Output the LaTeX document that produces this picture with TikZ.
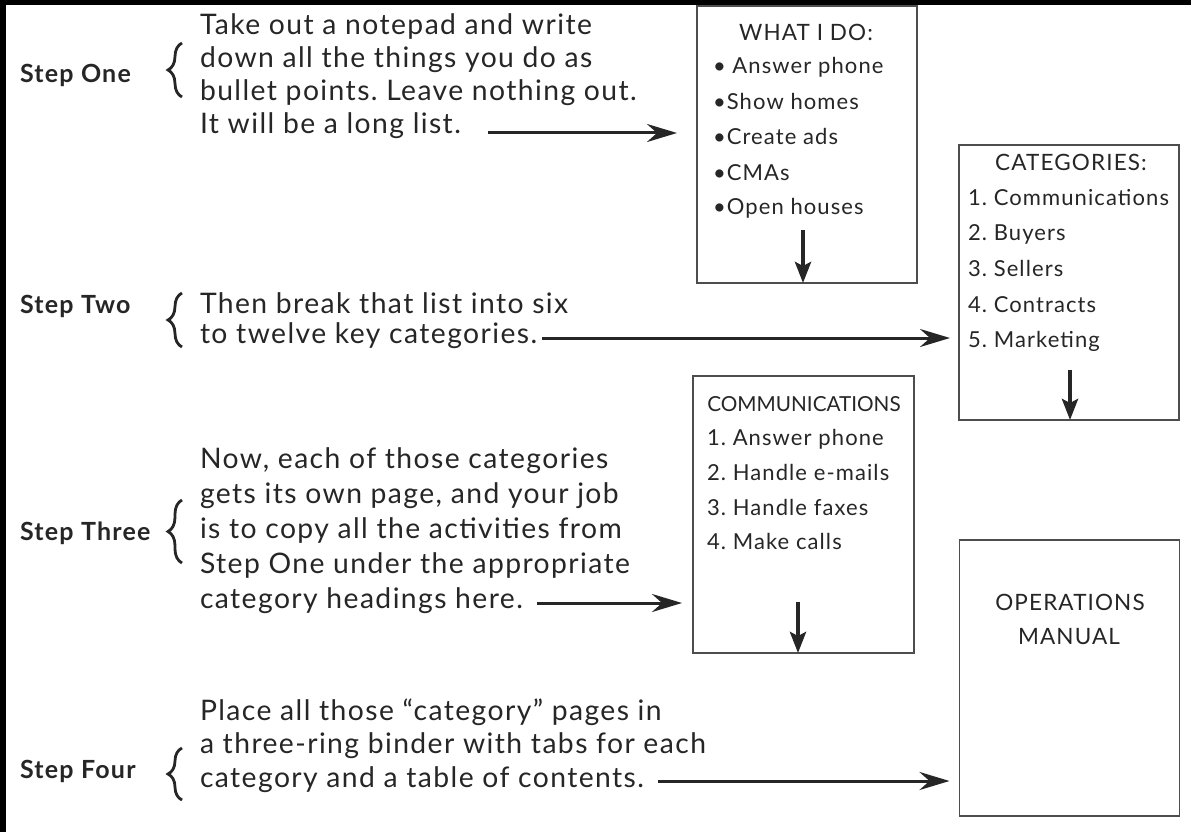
\documentclass[tikz,border=0pt]{standalone}
\usepackage{fontspec}
\setmainfont{Lato}[LetterSpace=5]
\newfontfamily\plainlato{Lato}
\usetikzlibrary{arrows.meta,decorations.pathreplacing}
\definecolor{ink}{HTML}{262626}
\definecolor{frame}{HTML}{4D4D4D}
\frenchspacing
\begin{document}
\begin{tikzpicture}[x=1pt,y=-1pt,
  every node/.style={inner sep=0pt, outer sep=0pt, text=ink},
  steplabel/.style={font=\fontsize{25}{30}\selectfont\bfseries, anchor=base west},
  body/.style={font=\fontsize{28.3}{33}\selectfont, anchor=base west},
  item/.style={font=\fontsize{22}{26}\selectfont, anchor=base west},
  heading/.style={font=\fontsize{22.5}{26}\selectfont, anchor=base},
  panel/.style={draw=frame, line width=1.4pt, minimum width=220pt, minimum height=277pt},
  sidebrace/.style={decorate, decoration={brace, amplitude=14pt}, line width=2.8pt, draw=ink},
  flow/.style={draw=ink, line width=3pt, -{Stealth[length=30pt, width=18pt, inset=10pt]}},
  down/.style={draw=ink, line width=4pt, -{Stealth[length=21pt, width=16pt, inset=4pt]}}
]
\useasboundingbox (0,0) rectangle (1191,832);
\fill[white] (0,0) rectangle (1191,832);
% dark edge strips along the top and the left side
\fill[black] (0,0) rectangle (1191,5);
\fill[black] (0,0) rectangle (6,832);

% ---- panels ----
\node[panel] (what) at (807,144.5) {};
\node[panel, minimum height=275pt] (cats) at (1069,282.5) {};
\node[panel, minimum width=221pt] (comm) at (803.5,514.5) {};
\node[panel, minimum height=276pt] (manual) at (1069.5,678) {};

% ---- panel contents ----
\node[heading] (whatT) at (806,41) {WHAT I DO:};
\node[item] (w1) at (713,74) {\textbullet\ Answer phone};
\node[item] (w2) at (713,110) {\textbullet Show homes};
\node[item] (w3) at (713,145) {\textbullet Create ads};
\node[item] (w4) at (713,180) {\textbullet CMAs};
\node[item] (w5) at (713,214) {\textbullet Open houses};

\node[heading] (catsT) at (1071,170) {CATEGORIES:};
\node[item] (c1) at (968,205) {1. Communications};
\node[item] (c2) at (968,240) {2. Buyers};
\node[item] (c3) at (968,276) {3. Sellers};
\node[item] (c4) at (968,312) {4. Contracts};
\node[item] (c5) at (968,347) {5. Marketing};

\node[heading, font=\plainlato\fontsize{20.7}{26}\selectfont] (commT) at (804,411) {COMMUNICATIONS};
\node[item] (m1) at (707,445) {1. Answer phone};
\node[item] (m2) at (707,480) {2. Handle e-mails};
\node[item] (m3) at (707,515) {3. Handle faxes};
\node[item] (m4) at (707,549) {4. Make calls};

\node[heading] (manT1) at (1070,610) {OPERATIONS};
\node[heading] (manT2) at (1069,644) {MANUAL};

% ---- step labels and braces ----
\node[steplabel] (lab1) at (20,83) {Step One};
\node[steplabel] (lab2) at (20,313) {Step Two};
\node[steplabel] (lab3) at (20,540) {Step Three};
\node[steplabel] (lab4) at (20,778) {Step Four};

\coordinate (b1a) at (182,97);  \coordinate (b1b) at (182,43);
\coordinate (b2a) at (182,347); \coordinate (b2b) at (182,293);
\coordinate (b3a) at (182,563); \coordinate (b3b) at (182,500);
\coordinate (b4a) at (182,800); \coordinate (b4b) at (182,748);
\draw[sidebrace] (b1a) -- (b1b);
\draw[sidebrace] (b2a) -- (b2b);
\draw[sidebrace] (b3a) -- (b3b);
\draw[sidebrace] (b4a) -- (b4b);

% ---- step texts ----
\node[body] (one1) at (200,35)  {Take out a notepad and write};
\node[body] (one2) at (200,68)  {down all the things you do as};
\node[body] (one3) at (200,101) {bullet points. Leave nothing out.};
\node[body] (one4) at (200,134) {It will be a long list.};

\node[body] (two1) at (200,313) {Then break that list into six};
\node[body] (two2) at (200,343) {to twelve key categories.};

\node[body] (three1) at (200,468) {Now, each of those categories};
\node[body] (three2) at (200,503) {gets its own page, and your job};
\node[body] (three3) at (200,538) {is to copy all the activities from};
\node[body] (three4) at (200,573) {Step One under the appropriate};
\node[body] (three5) at (200,608) {category headings here.};

\node[body] (four1) at (200,720) {Place all those \textquotedblleft category\textquotedblright\ pages in};
\node[body] (four2) at (200,753) {a three-ring binder with tabs for each};
\node[body] (four3) at (200,787) {category and a table of contents.};

% ---- connectors ----
\coordinate (a1) at (488,133);
\coordinate (a2) at (542,338);
\coordinate (a3) at (537,603);
\coordinate (a4) at (658,781);
\draw[flow, shorten >=20pt] (a1) -- (a1 -| what.west);
\draw[flow, shorten >=9pt]  (a2) -- (a2 -| cats.west);
\draw[flow, shorten >=11pt] (a3) -- (a3 -| comm.west);
\draw[flow, shorten >=10pt] (a4) -- (a4 -| manual.west);

\coordinate (d1) at (803,230);
\coordinate (d2) at (1070,370);
\coordinate (d3) at (798,602);
\draw[down] (d1) -- (d1 |- what.south);
\draw[down] (d2) -- (d2 |- cats.south);
\draw[down] (d3) -- (d3 |- comm.south);
\end{tikzpicture}
\end{document}
